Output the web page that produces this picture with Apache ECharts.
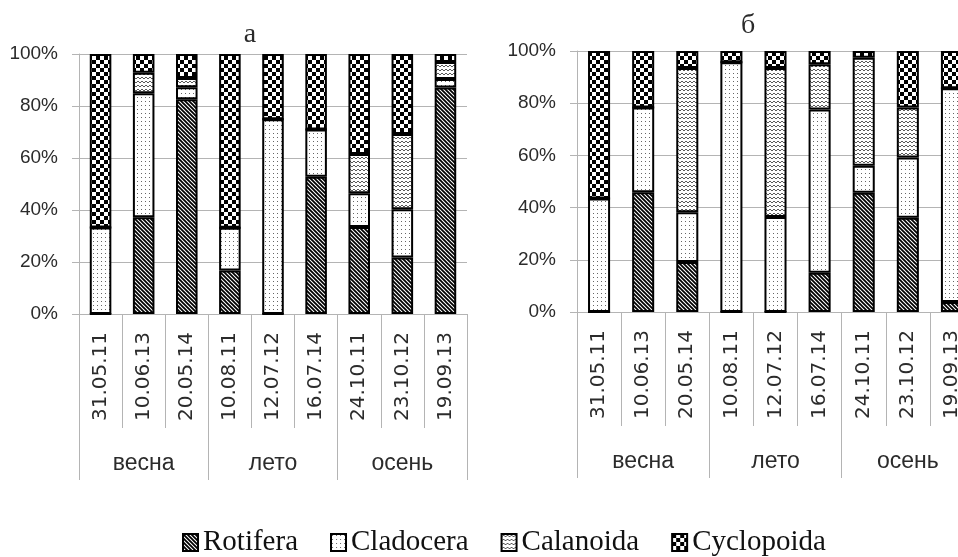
<!DOCTYPE html>
<html>
<head>
<meta charset="utf-8">
<script src="https://cdn.jsdelivr.net/npm/echarts@6/dist/echarts.min.js"></script>
<style>
html,body{margin:0;padding:0;background:#fff;overflow:hidden;width:958px;height:557px;}
#chart{width:985px;height:557px;}
</style>
</head>
<body>
<div id="chart"></div>
<script>
// ---- data ----
const dates = ['31.05.11','10.06.13','20.05.14','10.08.11','12.07.12','16.07.14','24.10.11','23.10.12','19.09.13'];
const seasons = ['весна','лето','осень'];
const yTicks = [0, 20, 40, 60, 80, 100];
const seriesNames = ['Rotifera','Cladocera','Calanoida','Cyclopoida'];
const panelTitles = ['а','б'];

// panel а
const rotiferaA   = [0, 37.2, 82.6, 16.7, 0, 52.8, 33.5, 21.7, 87.1];
const cladoceraA  = [33.3, 47.7, 4.6, 16.5, 74.9, 18.2, 12.9, 18.6, 3.3];
const calanoidaA  = [0, 7.9, 3.6, 0, 0, 0, 15.1, 28.9, 6.5];
const cyclopoidaA = [66.7, 7.2, 9.2, 66.8, 25.1, 29.0, 38.5, 30.8, 3.1];

// panel б
const rotiferaB   = [0, 45.9, 19.2, 0, 0, 15.0, 45.7, 36.1, 3.8];
const cladoceraB  = [43.5, 32.5, 19.0, 95.7, 36.4, 62.6, 10.3, 23.1, 81.9];
const calanoidaB  = [0, 0, 55.3, 0, 57.1, 17.3, 41.4, 19.2, 0];
const cyclopoidaB = [56.5, 21.6, 6.5, 4.3, 6.5, 5.1, 2.6, 21.6, 14.3];

// ---- patterns ----
function tile(w, h, draw) {
  const c = document.createElement('canvas');
  c.width = w; c.height = h;
  const g = c.getContext('2d');
  g.fillStyle = '#fff'; g.fillRect(0, 0, w, h);
  draw(g);
  return { image: c, repeat: 'repeat' };
}
const patRot = tile(4, 4, g => {
  g.strokeStyle = '#000'; g.lineWidth = 1.8;
  g.beginPath();
  g.moveTo(-1, -1); g.lineTo(5, 5);
  g.moveTo(-1, 3); g.lineTo(1, 5);
  g.moveTo(3, -1); g.lineTo(5, 1);
  g.stroke();
});
const patClad = tile(4, 4, g => {
  g.fillStyle = '#666'; g.fillRect(1, 1, 1, 1);
});
const patCal = tile(4, 4, g => {
  g.strokeStyle = '#5a5a5a'; g.lineWidth = 1;
  g.beginPath();
  g.moveTo(0, 3); g.lineTo(2, 1); g.lineTo(4, 3);
  g.stroke();
});
const patCyc = tile(8, 8, g => {
  g.fillStyle = '#000';
  g.fillRect(0, 0, 4, 4); g.fillRect(4, 4, 4, 4);
});
const patterns = [patRot, patClad, patCal, patCyc];

const panelData = [
  [rotiferaA, cladoceraA, calanoidaA, cyclopoidaA],
  [rotiferaB, cladoceraB, calanoidaB, cyclopoidaB]
];

const grids = [
  { left: 79, top: 54, width: 388, height: 260 },
  { left: 577, top: 51, width: 397, height: 261 }
];

const lineGrey = '#b4b4b4';
const textCol = '#2b2b2b';

const xAxes = [], yAxes = [], series = [];
grids.forEach((gr, gi) => {
  xAxes.push({
    type: 'category', gridIndex: gi, position: 'bottom', data: dates,
    boundaryGap: true,
    axisLine: { show: true, lineStyle: { color: lineGrey, width: 1 } },
    axisTick: { show: true, interval: 0, length: 114, lineStyle: { color: lineGrey } },
    axisLabel: { interval: 0, rotate: 90, margin: 18, color: textCol,
      fontFamily: 'DejaVu Sans', fontSize: 20 }
  });
  xAxes.push({
    type: 'category', gridIndex: gi, position: 'bottom', data: seasons,
    boundaryGap: true,
    axisLine: { show: false },
    axisTick: { show: true, interval: 0, length: 166, lineStyle: { color: lineGrey } },
    axisLabel: { interval: 0, margin: 138, color: textCol,
      fontFamily: 'Liberation Sans', fontSize: 23 }
  });
  yAxes.push({
    type: 'value', gridIndex: gi, min: yTicks[0], max: yTicks[yTicks.length - 1],
    interval: yTicks[1] - yTicks[0],
    axisLine: { show: true, lineStyle: { color: lineGrey } },
    axisTick: { show: true, length: 7, lineStyle: { color: lineGrey } },
    splitLine: { show: true, lineStyle: { color: lineGrey } },
    axisLabel: { formatter: '{value}%', margin: 21, color: textCol,
      fontFamily: 'Liberation Sans', fontSize: 19 }
  });
  panelData[gi].forEach((vals, si) => {
    series.push({
      name: seriesNames[si], type: 'bar', stack: 'p' + gi,
      xAxisIndex: gi * 2, yAxisIndex: gi,
      barWidth: '50%',
      data: vals,
      itemStyle: { color: patterns[si], borderColor: '#000', borderWidth: 2 },
      emphasis: { disabled: true },
      animation: false
    });
  });
});

const chart = echarts.init(document.getElementById('chart'), null, { renderer: 'canvas' });
chart.setOption({
  backgroundColor: '#fff',
  animation: false,
  title: [
    { text: panelTitles[0], left: 245, top: 30, textAlign: 'center', textVerticalAlign: 'middle',
      textStyle: { fontFamily: 'Liberation Serif', fontSize: 28, fontWeight: 'normal', color: textCol } },
    { text: panelTitles[1], left: 743, top: 21, textAlign: 'center', textVerticalAlign: 'middle',
      textStyle: { fontFamily: 'Liberation Serif', fontSize: 28, fontWeight: 'normal', color: textCol } }
  ],
  grid: grids,
  xAxis: xAxes,
  yAxis: yAxes,
  legend: {
    data: seriesNames, left: 182, top: 528, padding: 0, icon: 'rect',
    itemWidth: 15, itemHeight: 17, itemGap: 32,
    textStyle: { fontFamily: 'Liberation Serif', fontSize: 29, color: '#111' },
    selectedMode: false
  },
  series: series
});
</script>
</body>
</html>
